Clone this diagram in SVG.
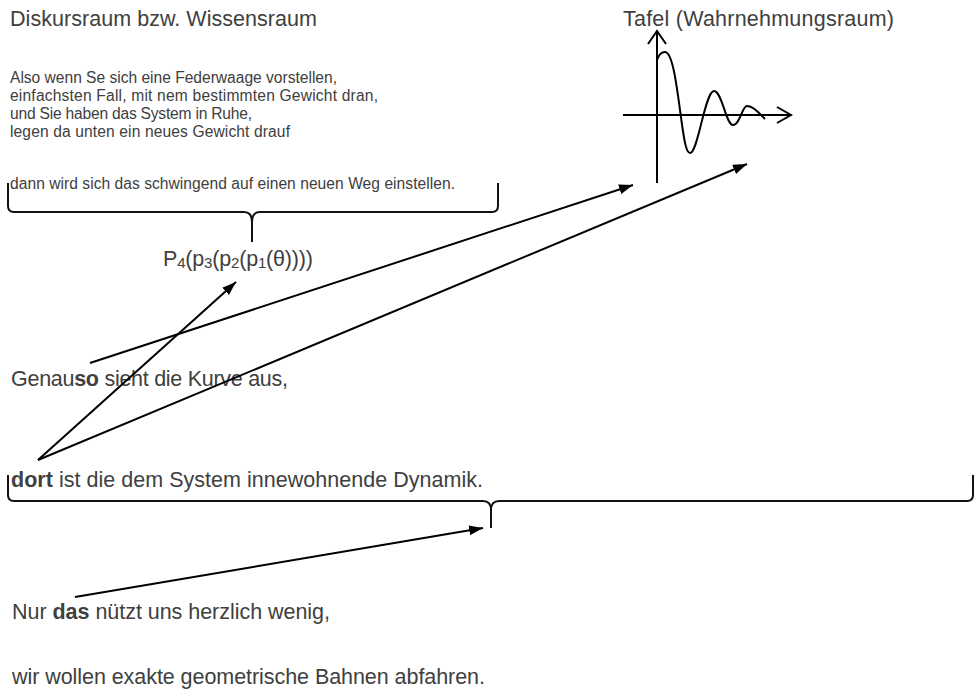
<svg xmlns="http://www.w3.org/2000/svg" width="978" height="692" viewBox="0 0 978 692">
<style>
  text { font-family: "Liberation Sans", Arial, sans-serif; fill: #404040; }
  .big { font-size: 21.5px; }
  .small { font-size: 15.6px; }
  .b { font-weight: bold; }
  .brace { fill: none; stroke: #111; stroke-width: 2; }
  .line { fill: none; stroke: #000; stroke-width: 2; }
  .arrow { fill: none; stroke: #000; stroke-width: 2; marker-end: url(#ah); }
</style>
<defs>
  <marker id="ah" markerUnits="userSpaceOnUse" markerWidth="16" markerHeight="12" refX="14" refY="5" orient="auto">
    <path d="M0,0 L14,5 L0,10 z" fill="#000"/>
  </marker>
</defs>
<rect width="978" height="692" fill="#fff"/>

<g id="diskursraum">
  <text class="big" x="10" y="26" textLength="307">Diskursraum bzw. Wissensraum</text>
  <text class="small" x="10" y="83" textLength="327">Also wenn Se sich eine Federwaage vorstellen,</text>
  <text class="small" x="10" y="101" textLength="368">einfachsten Fall, mit nem bestimmten Gewicht dran,</text>
  <text class="small" x="10" y="119" textLength="242">und Sie haben das System in Ruhe,</text>
  <text class="small" x="10" y="137" textLength="280">legen da unten ein neues Gewicht drauf</text>
  <text class="small" x="10" y="189" textLength="445">dann wird sich das schwingend auf einen neuen Weg einstellen.</text>
  <path class="brace" d="M8,183 L8,206 Q8,212 14,212 L244,212 Q252,212 252,222 L252,242 M252,222 Q252,212 260,212 L492,212 Q498,212 498,206 L498,183"/>
</g>

<g id="formel">
  <text class="big" x="163" y="266" textLength="150">P<tspan font-size="15" dy="2">4</tspan><tspan dy="-2">(p</tspan><tspan font-size="15" dy="2">3</tspan><tspan dy="-2">(p</tspan><tspan font-size="15" dy="2">2</tspan><tspan dy="-2">(p</tspan><tspan font-size="15" dy="2">1</tspan><tspan dy="-2">(θ))))</tspan></text>
</g>

<g id="tafel">
  <text class="big" x="623" y="26" textLength="271">Tafel (Wahrnehmungsraum)</text>
  <path class="line" d="M657,183 L657,31 M648,44 L657,31 L666,44"/>
  <path class="line" d="M623,115 L791,115 M777,107 L791,115 L777,123"/>
  <path class="line" d="M657,60 C659,54 662,52 665,52 C672,52 676,80 680,110 C684,140 686,153 690,153 C698,153 705,91 714,91 C722,91 726,125 733,125 C740,125 742,106 747,106 C753,106 758,112 765,119"/>
</g>

<g id="genauso">
  <text class="big" x="11" y="386" textLength="277">Genau<tspan class="b">so</tspan> sieht die Kurve aus,</text>
</g>

<g id="dort">
  <text class="big" x="11" y="487" textLength="472"><tspan class="b">dort</tspan> ist die dem System innewohnende Dynamik.</text>
  <path class="brace" d="M8,475 L8,495 Q8,501 14,501 L483,501 Q491,501 491,510 L491,528 M491,510 Q491,501 499,501 L967,501 Q973,501 973,495 L973,475"/>
</g>

<g id="nur-das">
  <text class="big" x="12" y="619" textLength="318">Nur <tspan class="b">das</tspan> nützt uns herzlich wenig,</text>
</g>

<g id="bahnen">
  <text class="big" x="12" y="684" textLength="473">wir wollen exakte geometrische Bahnen abfahren.</text>
</g>

<g id="connectors">
  <line class="arrow" x1="90" y1="363" x2="633" y2="185"/>
  <line class="arrow" x1="38" y1="460" x2="747" y2="164"/>
  <line class="arrow" x1="38" y1="460" x2="236" y2="282"/>
  <line class="arrow" x1="75" y1="597" x2="483" y2="528"/>
</g>
</svg>
